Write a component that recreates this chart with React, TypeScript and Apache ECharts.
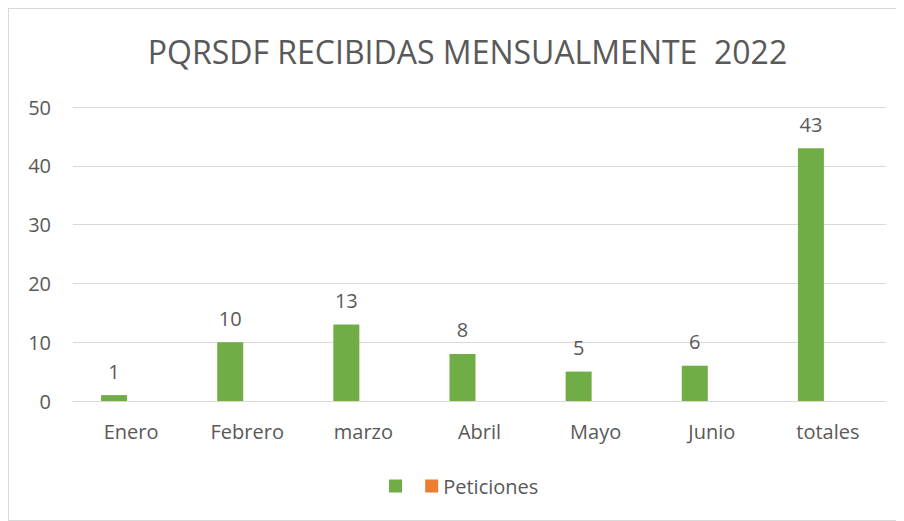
import React, { useEffect, useRef } from "react";
import * as echarts from "echarts";

const categories = ["Enero", "Febrero", "marzo", "Abril", "Mayo", "Junio", "totales"];
const mainValues = [1, 10, 13, 8, 5, 6, 43];
const peticionesValues = [0, 0, 0, 0, 0, 0, 0];
const spacerValues = [0, 0, 0, 0, 0, 0, 0];
const yTicks = { min: 0, max: 50, interval: 10 };

const FONT = "'Open Sans', 'Noto Sans', sans-serif";
const TEXT = "#595959";

export default function App() {
  const ref = useRef<HTMLDivElement>(null);
  useEffect(() => {
    if (!ref.current) return;
    const chart = echarts.init(ref.current, null, { renderer: "svg" });
    chart.setOption({
      animation: false,
      backgroundColor: "#ffffff",
      title: {
        text: "PQRSDF RECIBIDAS MENSUALMENTE  2022",
        left: 453.5,
        textAlign: "center",
        top: 21,
        textStyle: { fontFamily: FONT, fontSize: 32, fontWeight: "normal", color: TEXT },
      },
      legend: {
        top: 462,
        left: 375,
        itemWidth: 13,
        itemHeight: 13,
        itemGap: 13,
        icon: "rect",
        textStyle: { fontFamily: FONT, fontSize: 20, color: TEXT },
        data: [" ", "Peticiones"],
      },
      grid: { left: 64, right: 17, top: 98, bottom: 119 },
      xAxis: {
        type: "category",
        data: categories,
        axisLine: { lineStyle: { color: "#d9d9d9" } },
        axisTick: { show: false },
        axisLabel: { fontFamily: FONT, fontSize: 20, color: TEXT, margin: 20 },
      },
      yAxis: {
        type: "value",
        min: yTicks.min,
        max: yTicks.max,
        interval: yTicks.interval,
        axisLine: { show: false },
        axisTick: { show: false },
        splitLine: { lineStyle: { color: "#d9d9d9" } },
        axisLabel: { fontFamily: FONT, fontSize: 20, color: TEXT, margin: 22 },
      },
      series: [
        {
          name: " ",
          type: "bar",
          data: mainValues,
          barWidth: 26,
          barGap: "0%",
          itemStyle: { color: "#70AD47" },
          label: {
            show: true,
            position: "top",
            distance: 14,
            fontFamily: FONT,
            fontSize: 20,
            color: TEXT,
          },
        },
        {
          name: "Peticiones",
          type: "bar",
          data: peticionesValues,
          barWidth: 26,
          barGap: "0%",
          itemStyle: { color: "#ED7D31" },
        },
        {
          name: "spacer",
          type: "bar",
          data: spacerValues,
          barWidth: 8,
          barGap: "0%",
          silent: true,
          itemStyle: { color: "rgba(0,0,0,0)" },
        },
      ],
    });
    return () => chart.dispose();
  }, []);
  return (
    <div
      style={{
        width: 896,
        height: 513,
        boxSizing: "border-box",
        border: "1px solid #d9d9d9",
      }}
    >
      <div ref={ref} style={{ width: 894, height: 511 }} />
    </div>
  );
}
